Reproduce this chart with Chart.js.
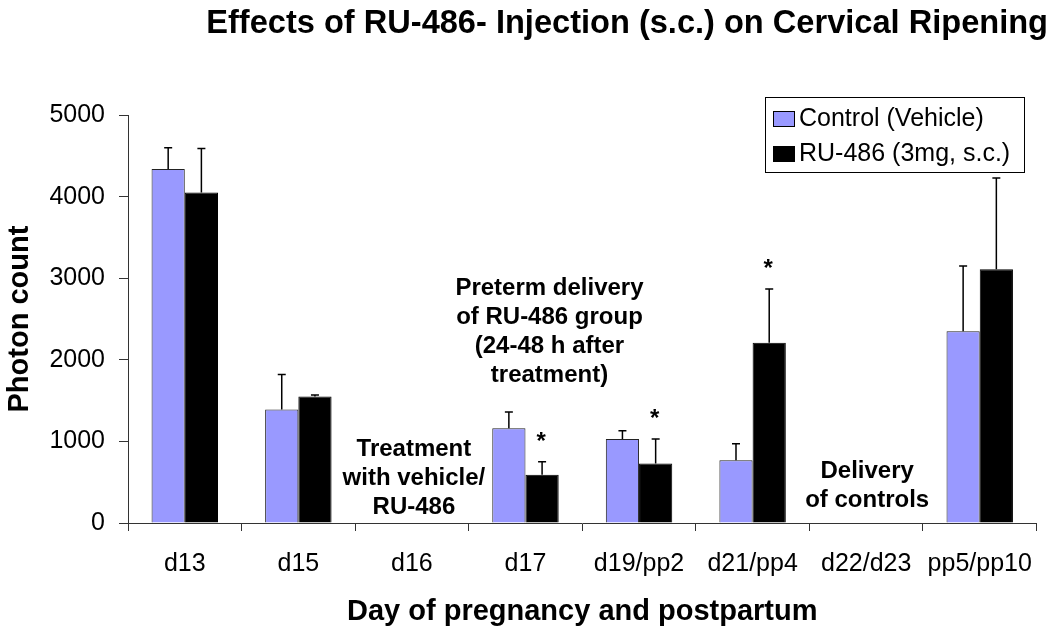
<!DOCTYPE html>
<html>
<head>
<meta charset="utf-8">
<script src="https://cdn.jsdelivr.net/npm/chart.js@4.4.1/dist/chart.umd.min.js"></script>
<style>
    body { margin: 0; background: #fff; }
</style>
</head>
<body>
<canvas id="ripening-chart" width="1050" height="636"></canvas>
<script>
(function() {
    'use strict';

    // Datos
    var categories = ['d13', 'd15', 'd16', 'd17', 'd19/pp2', 'd21/pp4', 'd22/d23', 'pp5/pp10'];
    var controlMean = [4340, 1390, null, 1160, 1030, 770, null, 2350];
    var controlSem = [260, 430, null, 200, 100, 200, null, 800];
    var ruMean = [4050, 1550, null, 590, 730, 2210, null, 3110];
    var ruSem = [540, 20, null, 160, 300, 660, null, 1120];
    var ruSignificant = ['d17', 'd19/pp2', 'd21/pp4'];
    var yTicks = [0, 1000, 2000, 3000, 4000, 5000];

    var FONT = "'Liberation Sans', Arial, Helvetica, sans-serif";

    // Notas de texto sobre el gráfico (ancla: categoría + valor de la primera línea)
    var notes = [
        { lines: ['Treatment', 'with vehicle/', 'RU-486'], category: 'd16', dx: 2, value: 820 },
        { lines: ['Preterm delivery', 'of RU-486 group', '(24-48 h after', 'treatment)'], category: 'd17', dx: 24, value: 2790 },
        { lines: ['Delivery', 'of controls'], category: 'd22/d23', dx: 1, value: 550 }
    ];

    // Barras de error (solo hacia arriba) y asteriscos
    var errorBarsPlugin = {
        id: 'errorBars',
        afterDatasetsDraw: function(chart) {
            var ctx = chart.ctx;
            var yScale = chart.scales.y;
            ctx.save();
            chart.data.datasets.forEach(function(ds, i) {
                var meta = chart.getDatasetMeta(i);
                meta.data.forEach(function(bar, j) {
                    var mean = ds.data[j];
                    if (mean === null) {
                        return;
                    }
                    var yErr = yScale.getPixelForValue(mean + ds.sem[j]);
                    ctx.strokeStyle = '#000';
                    ctx.lineWidth = 1.5;
                    ctx.beginPath();
                    ctx.moveTo(bar.x, bar.y);
                    ctx.lineTo(bar.x, yErr);
                    ctx.moveTo(bar.x - 4, yErr);
                    ctx.lineTo(bar.x + 4, yErr);
                    ctx.stroke();

                    if (ds.significant && ds.significant.indexOf(categories[j]) !== -1) {
                        ctx.fillStyle = '#000';
                        ctx.font = 'bold 24px ' + FONT;
                        ctx.textAlign = 'center';
                        ctx.textBaseline = 'alphabetic';
                        ctx.fillText('*', bar.x - 1, yErr - 13);
                    }
                });
            });
            ctx.restore();
        }
    };

    // Notas y leyenda con marco
    var notesPlugin = {
        id: 'notes',
        afterDraw: function(chart) {
            var ctx = chart.ctx;
            var xScale = chart.scales.x;
            var yScale = chart.scales.y;
            ctx.save();
            ctx.fillStyle = '#000';
            ctx.font = 'bold 24px ' + FONT;
            ctx.textAlign = 'center';
            ctx.textBaseline = 'alphabetic';
            notes.forEach(function(note) {
                var x = xScale.getPixelForValue(categories.indexOf(note.category)) + note.dx;
                var y = yScale.getPixelForValue(note.value);
                note.lines.forEach(function(line, k) {
                    ctx.fillText(line, x, y + k * 29);
                });
            });

            // Leyenda
            var box = chart.options.plugins.boxLegend;
            ctx.strokeStyle = '#000';
            ctx.lineWidth = 1;
            ctx.strokeRect(box.x + 0.5, box.y + 0.5, box.w, box.h);
            ctx.font = '25px ' + FONT;
            ctx.textAlign = 'left';
            ctx.textBaseline = 'middle';
            chart.data.datasets.forEach(function(ds, i) {
                var cy = box.y + 21 + i * 35;
                ctx.fillStyle = ds.backgroundColor;
                ctx.fillRect(box.x + 8, cy - 7, 21, 15);
                ctx.strokeRect(box.x + 8.5, cy - 6.5, 21, 15);
                ctx.fillStyle = '#000';
                ctx.fillText(ds.label, box.x + 34, cy + 1);
            });
            ctx.restore();
        }
    };

    var ctx = document.getElementById('ripening-chart');
    new Chart(ctx, {
        type: 'bar',
        data: {
            labels: categories,
            datasets: [
                {
                    label: 'Control (Vehicle)',
                    data: controlMean,
                    sem: controlSem,
                    backgroundColor: '#9999FF', // lavanda
                    borderColor: '#222',
                    borderWidth: 1
                },
                {
                    label: 'RU-486 (3mg, s.c.)',
                    data: ruMean,
                    sem: ruSem,
                    significant: ruSignificant,
                    backgroundColor: '#000',
                    borderColor: '#000',
                    borderWidth: 1
                }
            ]
        },
        options: {
            responsive: false,
            animation: false,
            categoryPercentage: 0.585,
            barPercentage: 1.0,
            layout: {
                padding: { top: 0, right: 2, bottom: 0, left: 0 }
            },
            plugins: {
                legend: { display: false },
                tooltip: { enabled: false },
                title: {
                    display: true,
                    text: 'Effects of RU-486- Injection (s.c.) on Cervical Ripening',
                    align: 'end',
                    color: '#000',
                    font: { family: FONT, size: 32.6, weight: 'bold', lineHeight: 1.2 },
                    padding: { top: 4, bottom: 72 }
                },
                boxLegend: { x: 765, y: 97, w: 259, h: 75 }
            },
            scales: {
                x: {
                    grid: {
                        display: true,
                        drawOnChartArea: false,
                        drawTicks: true,
                        tickLength: 8,
                        color: '#333',
                        offset: true
                    },
                    border: { display: true, color: '#333', width: 1 },
                    ticks: {
                        color: '#000',
                        font: { family: FONT, size: 25 },
                        padding: 18,
                        maxRotation: 0,
                        autoSkip: false
                    },
                    title: {
                        display: true,
                        text: 'Day of pregnancy and postpartum',
                        color: '#000',
                        font: { family: FONT, size: 29, weight: 'bold', lineHeight: 1.2 },
                        padding: { top: 0, bottom: 7 }
                    },
                    afterFit: function(scale) {
                        scale.height = 113;
                    }
                },
                y: {
                    min: 0,
                    max: 5000,
                    grid: {
                        display: true,
                        drawOnChartArea: false,
                        drawTicks: true,
                        tickLength: 9,
                        color: '#333'
                    },
                    border: { display: true, color: '#333', width: 1 },
                    afterBuildTicks: function(scale) {
                        scale.ticks = yTicks.map(function(v) { return { value: v }; });
                    },
                    ticks: {
                        color: '#000',
                        font: { family: FONT, size: 25 },
                        padding: 14,
                        callback: function(value) {
                            return String(value);
                        }
                    },
                    title: {
                        display: true,
                        text: 'Photon count',
                        color: '#000',
                        font: { family: FONT, size: 29, weight: 'bold', lineHeight: 1.2 },
                        padding: { top: 3, bottom: 0 }
                    },
                    afterFit: function(scale) {
                        scale.width = 128;
                    }
                }
            }
        },
        plugins: [errorBarsPlugin, notesPlugin]
    });
})();
</script>
</body>
</html>
